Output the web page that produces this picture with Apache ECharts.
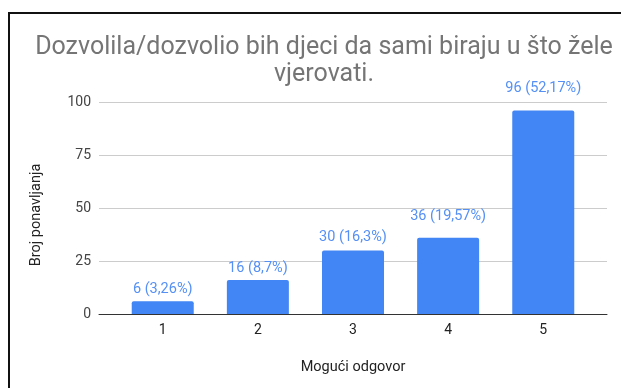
<!DOCTYPE html>
<html>
<head>
<meta charset="utf-8">
<script src="https://cdn.jsdelivr.net/npm/echarts@6/dist/echarts.min.js"></script>
<style>
  html, body { margin: 0; padding: 0; background: #fff; }
  #chart { width: 621px; height: 388px; }
</style>
</head>
<body>
<div id="chart"></div>
<script>
// Answer options and how many times each was chosen
const categories = ['1', '2', '3', '4', '5'];
const counts = [6, 16, 30, 36, 96];
const percents = ['3,26', '8,7', '16,3', '19,57', '52,17'];
const yTicks = [0, 25, 50, 75, 100];

// Space between each bar top and its value label
const labelLift = [4, 4, 6, 13.5, 14.5];

const chart = echarts.init(document.getElementById('chart'), null, { renderer: 'canvas' });

const barData = categories.map((c, i) => ({
  value: [i + 1, counts[i]],
  label: { distance: labelLift[i] }
}));

chart.setOption({
  animation: false,
  textStyle: { fontFamily: 'Roboto' },
  title: {
    text: 'Dozvolila/dozvolio bih djeci da sami biraju u što žele\nvjerovati.',
    left: 319,
    top: 29,
    textAlign: 'center',
    textStyle: {
      fontFamily: 'Roboto',
      fontSize: 25,
      fontWeight: 'normal',
      color: '#757575',
      lineHeight: 27
    }
  },
  graphic: [{
    type: 'rect',
    shape: { x: 9, y: 13, width: 700, height: 500 },
    style: { fill: 'none', stroke: '#111', lineWidth: 2 },
    silent: true
  }],
  grid: { left: 99, right: 14, top: 102, bottom: 74 },
  xAxis: {
    type: 'value',
    min: 0.33,
    max: 5.67,
    name: 'Mogući odgovor',
    nameLocation: 'middle',
    nameGap: 46,
    nameTextStyle: { fontSize: 14.5, color: '#222' },
    axisLine: { show: true, onZero: true, lineStyle: { color: '#333', width: 1 } },
    axisTick: { show: false },
    splitLine: { show: false },
    axisLabel: {
      customValues: categories.map((c, i) => i + 1),
      formatter: v => categories[Math.round(v) - 1],
      fontSize: 14,
      color: '#222',
      margin: 9
    }
  },
  yAxis: {
    type: 'value',
    min: yTicks[0],
    max: yTicks[yTicks.length - 1],
    interval: 25,
    name: 'Broj ponavljanja',
    nameLocation: 'middle',
    nameGap: 55,
    nameTextStyle: { fontSize: 14.5, color: '#222', padding: [0, 14, 0, 0] },
    axisLine: { show: false },
    axisTick: { show: false },
    splitLine: { lineStyle: { color: '#cccccc', width: 1 } },
    axisLabel: { fontSize: 14, color: '#444', margin: 8 }
  },
  series: [{
    type: 'bar',
    data: barData,
    barWidth: 62,
    itemStyle: { color: '#4285f4', borderRadius: [2, 2, 0, 0] },
    label: {
      show: true,
      position: 'top',
      fontSize: 14.5,
      color: '#5590f5',
      formatter: p => counts[p.dataIndex] + ' (' + percents[p.dataIndex] + '%)'
    }
  }]
});
</script>
</body>
</html>
